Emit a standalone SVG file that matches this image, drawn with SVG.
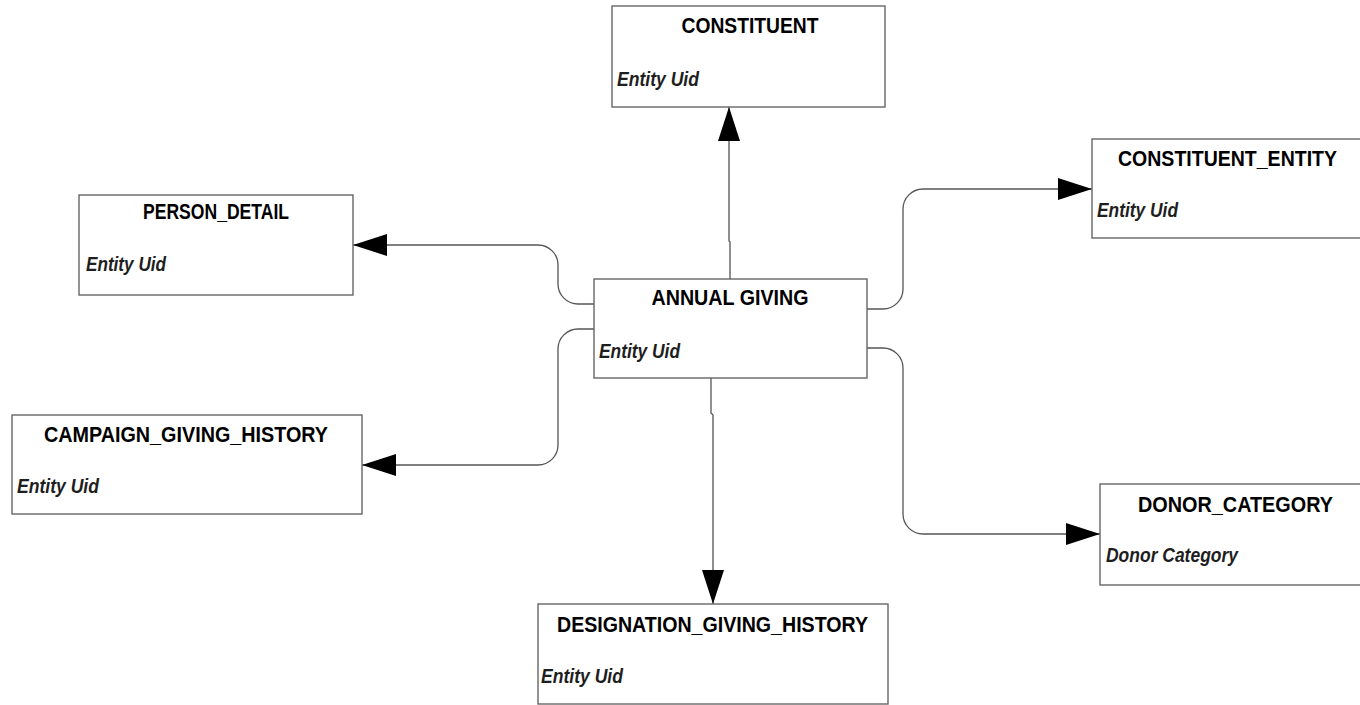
<svg xmlns="http://www.w3.org/2000/svg" width="1360" height="705" viewBox="0 0 1360 705">
  <style>
    .box { fill: #ffffff; stroke: #666666; stroke-width: 1.4; }
    .title { font-family: "Liberation Sans", Arial, sans-serif; font-weight: bold; font-size: 22.5px; fill: #000000; text-anchor: middle; }
    .attr { font-family: "Liberation Sans", Arial, sans-serif; font-weight: bold; font-style: italic; font-size: 20px; fill: #1e1e1e; }
    .link { fill: none; stroke: #555555; stroke-width: 1.3; marker-end: url(#arrow); }
  </style>
  <defs>
    <marker id="arrow" markerUnits="userSpaceOnUse" markerWidth="34" markerHeight="22" refX="34" refY="11" orient="auto" viewBox="0 0 34 22">
      <path d="M0,0 L34,11 L0,22 Z" fill="#000000"/>
    </marker>
  </defs>

  <rect width="1360" height="705" fill="#ffffff"/>

  <!-- relationships from ANNUAL GIVING -->
  <g id="connectors">
    <path class="link" d="M730,279 V242 L729,241 V107"/>
    <path class="link" d="M711,378 V413 L713,415 V604"/>
    <path class="link" d="M594,304 H578 A20,20 0 0 1 558,284 V265 A20,20 0 0 0 538,245 H353"/>
    <path class="link" d="M594,329 H578 A20,20 0 0 0 558,349 V445 A20,20 0 0 1 538,465 H362"/>
    <path class="link" d="M867,309 H883 A20,20 0 0 0 903,289 V209 A20,20 0 0 1 923,189 H1092"/>
    <path class="link" d="M867,348 H883 A20,20 0 0 1 903,368 V514 A20,20 0 0 0 923,534 H1100"/>
  </g>

  <g id="constituent">
    <rect class="box" x="612" y="6" width="273" height="101"/>
    <text class="title" x="750" y="33" textLength="137" lengthAdjust="spacingAndGlyphs">CONSTITUENT</text>
    <text class="attr" x="617" y="86" textLength="82" lengthAdjust="spacingAndGlyphs">Entity Uid</text>
  </g>

  <g id="annual-giving">
    <rect class="box" x="594" y="279" width="273" height="99"/>
    <text class="title" x="730" y="305" textLength="157" lengthAdjust="spacingAndGlyphs">ANNUAL GIVING</text>
    <text class="attr" x="599" y="358" textLength="81" lengthAdjust="spacingAndGlyphs">Entity Uid</text>
  </g>

  <g id="person-detail">
    <rect class="box" x="79" y="195" width="274" height="100"/>
    <text class="title" x="216" y="219" textLength="146" lengthAdjust="spacingAndGlyphs">PERSON_DETAIL</text>
    <text class="attr" x="86" y="271" textLength="80" lengthAdjust="spacingAndGlyphs">Entity Uid</text>
  </g>

  <g id="campaign-giving-history">
    <rect class="box" x="12" y="415" width="350" height="99"/>
    <text class="title" x="186" y="442" textLength="284" lengthAdjust="spacingAndGlyphs">CAMPAIGN_GIVING_HISTORY</text>
    <text class="attr" x="17" y="493" textLength="82" lengthAdjust="spacingAndGlyphs">Entity Uid</text>
  </g>

  <g id="constituent-entity">
    <rect class="box" x="1092" y="139" width="269" height="99"/>
    <text class="title" x="1227.5" y="166" textLength="219" lengthAdjust="spacingAndGlyphs">CONSTITUENT_ENTITY</text>
    <text class="attr" x="1097" y="217" textLength="81" lengthAdjust="spacingAndGlyphs">Entity Uid</text>
  </g>

  <g id="donor-category">
    <rect class="box" x="1100" y="484" width="261" height="101"/>
    <text class="title" x="1235.5" y="512" textLength="195" lengthAdjust="spacingAndGlyphs">DONOR_CATEGORY</text>
    <text class="attr" x="1106" y="562" textLength="132" lengthAdjust="spacingAndGlyphs">Donor Category</text>
  </g>

  <g id="designation-giving-history">
    <rect class="box" x="538" y="604" width="350" height="100"/>
    <text class="title" x="712.5" y="632" textLength="311" lengthAdjust="spacingAndGlyphs">DESIGNATION_GIVING_HISTORY</text>
    <text class="attr" x="541" y="683" textLength="82" lengthAdjust="spacingAndGlyphs">Entity Uid</text>
  </g>
</svg>
